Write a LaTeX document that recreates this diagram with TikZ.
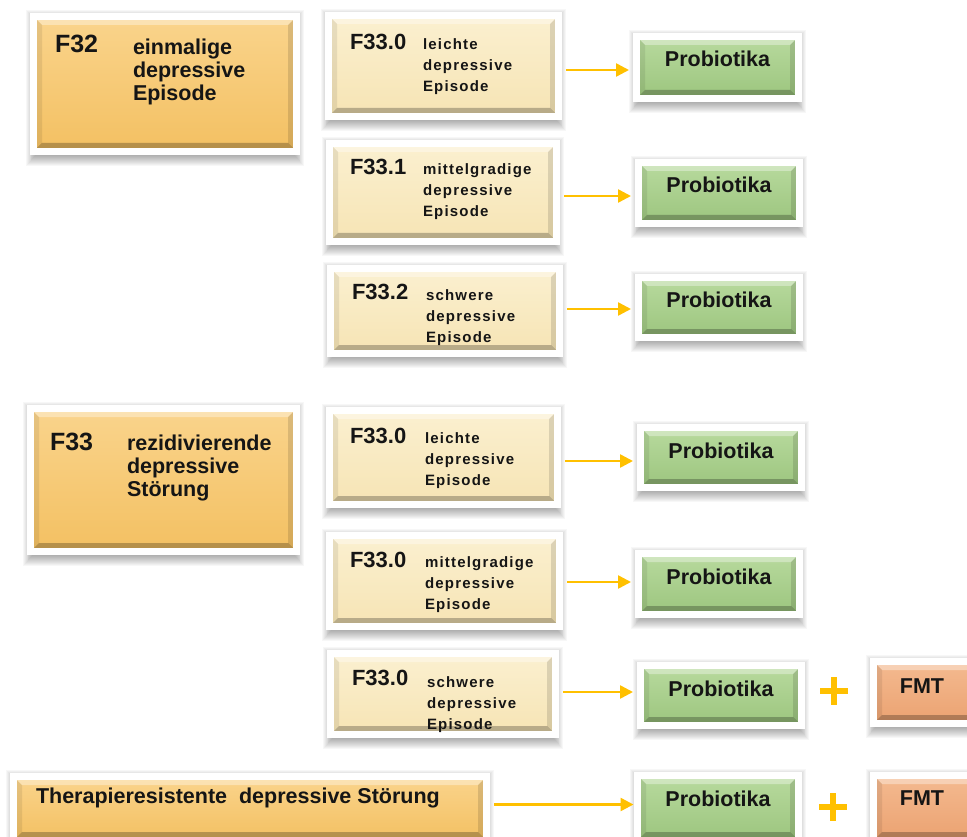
\documentclass[tikz,border=0pt]{standalone}
\usepackage{fontspec}
\setmainfont{Liberation Sans}
\newfontfamily\spacedfont[LetterSpace=8]{Liberation Sans}
\usetikzlibrary{arrows.meta}

\definecolor{gold}{HTML}{FFC000}
\definecolor{inktext}{HTML}{151515}
\definecolor{orangeTop}{HTML}{FAD48C}
\definecolor{orangeBot}{HTML}{F3C062}
\definecolor{creamTop}{HTML}{FBF0D0}
\definecolor{creamBot}{HTML}{F6E4B4}
\definecolor{greenTop}{HTML}{B8DA9E}
\definecolor{greenBot}{HTML}{9CC57E}
\definecolor{salmonTop}{HTML}{F4BA90}
\definecolor{salmonBot}{HTML}{EBA271}

\tikzset{
  tile/.style={rectangle, draw=white, line width=7pt, inner sep=0pt, outer sep=0pt,
    path picture={
      \path (path picture bounding box.south west) ++(3.5pt,3.5pt) coordinate (bA)
            (path picture bounding box.south east) ++(-3.5pt,3.5pt) coordinate (bB)
            (path picture bounding box.north east) ++(-3.5pt,-3.5pt) coordinate (bC)
            (path picture bounding box.north west) ++(3.5pt,-3.5pt) coordinate (bD);
      \fill[white, opacity=.35] (bD) -- (bC) -- ([shift={(-5pt,-5pt)}]bC) -- ([shift={(5pt,-5pt)}]bD) -- cycle;
      \fill[black, opacity=.25] (bA) -- (bB) -- ([shift={(-5pt,5pt)}]bB) -- ([shift={(5pt,5pt)}]bA) -- cycle;
      \fill[black, opacity=.08] (bA) -- (bD) -- ([shift={(5pt,-5pt)}]bD) -- ([shift={(5pt,5pt)}]bA) -- cycle;
      \fill[black, opacity=.12] (bB) -- (bC) -- ([shift={(-5pt,-5pt)}]bC) -- ([shift={(-5pt,5pt)}]bB) -- cycle;
    }},
  shade layer/.style={fill=black, opacity=0.033},
  orangetile/.style={tile, top color=orangeTop, bottom color=orangeBot},
  creamtile/.style={tile, top color=creamTop, bottom color=creamBot},
  greentile/.style={tile, top color=greenTop, bottom color=greenBot},
  salmontile/.style={tile, top color=salmonTop, bottom color=salmonBot},
  lbl/.style={inner sep=0pt, outer sep=0pt, text=inktext, anchor=base west, align=left},
  bigcode/.style={lbl, font=\bfseries\fontsize{25}{28}\selectfont},
  bigdesc/.style={lbl, font=\bfseries\fontsize{21.5}{23}\selectfont},
  smallcode/.style={lbl, font=\bfseries\fontsize{22}{24}\selectfont},
  smalldesc/.style={lbl, font=\spacedfont\bfseries\fontsize{15}{21}\selectfont},
  therapy/.style={lbl, font=\bfseries\fontsize{21.5}{24}\selectfont},
  tiletext/.style={inner sep=0pt, outer sep=0pt, text=inktext, anchor=base,
    font=\bfseries\fontsize{21.5}{24}\selectfont},
  flow/.style={draw=gold, line width=2.5pt, -{Triangle[length=13pt,width=13pt]},
    shorten <=7.5pt, shorten >=7.5pt},
  plus/.style={draw=gold, line width=5.5pt}
}

% tile from its outer frame corners: name, style, x1, y1, x2, y2
% a soft shadow is built from stacked translucent rectangles first
\newcommand\tilebox[6]{%
  \foreach \k in {0,...,10}
    \fill[shade layer] ({#3+5-0.9*\k},{#4+6-0.9*\k}) rectangle ({#5-5+0.9*\k},{#6+1+\k});
  \node[#2, minimum width={#5-#3-7}, minimum height={#6-#4-7}] (#1) at ({(#3+#5)/2},{(#4+#6)/2}) {};}

\begin{document}
\begin{tikzpicture}[x=1pt, y=-1pt]
\useasboundingbox[fill=white] (0,0) rectangle (967,837);

% diagnosis groups
\tilebox{f32}{orangetile}{30}{13}{300}{155}
\tilebox{f33}{orangetile}{27}{405}{300}{555}
\tilebox{trd}{orangetile}{10}{773}{490}{844}

% episode tiles
\tilebox{a1}{creamtile}{325}{12}{562}{120}
\tilebox{a2}{creamtile}{326}{140}{560}{245}
\tilebox{a3}{creamtile}{327}{265}{563}{357}
\tilebox{b1}{creamtile}{326}{407}{561}{508}
\tilebox{b2}{creamtile}{326}{532}{563}{630}
\tilebox{b3}{creamtile}{327}{650}{559}{738}

% therapy tiles
\tilebox{p1}{greentile}{633}{33}{802}{102}
\tilebox{p2}{greentile}{635}{159}{803}{227}
\tilebox{p3}{greentile}{635}{274}{803}{341}
\tilebox{p4}{greentile}{637}{424}{805}{491}
\tilebox{p5}{greentile}{635}{550}{803}{618}
\tilebox{p6}{greentile}{637}{662}{805}{729}
\tilebox{p7}{greentile}{634}{772}{802}{844}
\tilebox{m1}{salmontile}{870}{658}{985}{727}
\tilebox{m2}{salmontile}{870}{772}{985}{844}

% group labels (multi-line nodes sit on their last baseline)
\node[bigcode] (f32c) at (55,53) {F32};
\node[bigdesc] (f32d) at (133,101) {einmalige\\depressive\\Episode};
\node[bigcode] (f33c) at (50,450) {F33};
\node[bigdesc] (f33d) at (127,496) {rezidivierende\\depressive\\Störung};
\node[therapy] (trdt) at (36,803) {Therapieresistente\ \ depressive Störung};

% episode labels
\node[smallcode] (a1c) at (350,50) {F33.0};
\node[smalldesc] (a1d) at (423,92) {leichte\\depressive\\Episode};
\node[smallcode] (a2c) at (350,175) {F33.1};
\node[smalldesc] (a2d) at (423,217) {mittelgradige\\depressive\\Episode};
\node[smallcode] (a3c) at (352,300) {F33.2};
\node[smalldesc] (a3d) at (426,342) {schwere\\depressive\\Episode};
\node[smallcode] (b1c) at (350,443) {F33.0};
\node[smalldesc] (b1d) at (425,485) {leichte\\depressive\\Episode};
\node[smallcode] (b2c) at (350,567) {F33.0};
\node[smalldesc] (b2d) at (425,609) {mittelgradige\\depressive\\Episode};
\node[smallcode] (b3c) at (352,685) {F33.0};
\node[smalldesc] (b3d) at (427,729) {schwere\\depressive\\Episode};

% therapy labels
\foreach \p in {p1,p2,p3,p4,p5,p6,p7}
  \node[tiletext] (\p t) at ([yshift=-30.5pt]\p.north) {Probiotika};
\node[tiletext] (m1t) at (922,693) {FMT};
\node[tiletext] (m2t) at (922,805) {FMT};

% arrows, each at its own height
\draw[flow] ([yshift=-4pt]a1.east) -- ([yshift=-4pt]a1.east -| p1.west);
\draw[flow] ([yshift=-3.5pt]a2.east) -- ([yshift=-3.5pt]a2.east -| p2.west);
\draw[flow] ([yshift=2pt]a3.east) -- ([yshift=2pt]a3.east -| p3.west);
\draw[flow] ([yshift=-3.5pt]b1.east) -- ([yshift=-3.5pt]b1.east -| p4.west);
\draw[flow] ([yshift=-1pt]b2.east) -- ([yshift=-1pt]b2.east -| p5.west);
\draw[flow] ([yshift=2pt]b3.east) -- ([yshift=2pt]b3.east -| p6.west);
\draw[flow, shorten >=4pt] ([yshift=4pt]trd.east) -- ([yshift=4pt]trd.east -| p7.west);

% plus signs
\draw[plus] (834,677) -- (834,705) (820,691) -- (848,691);
\draw[plus] (833,793) -- (833,821) (819,807) -- (847,807);
\end{tikzpicture}
\end{document}
